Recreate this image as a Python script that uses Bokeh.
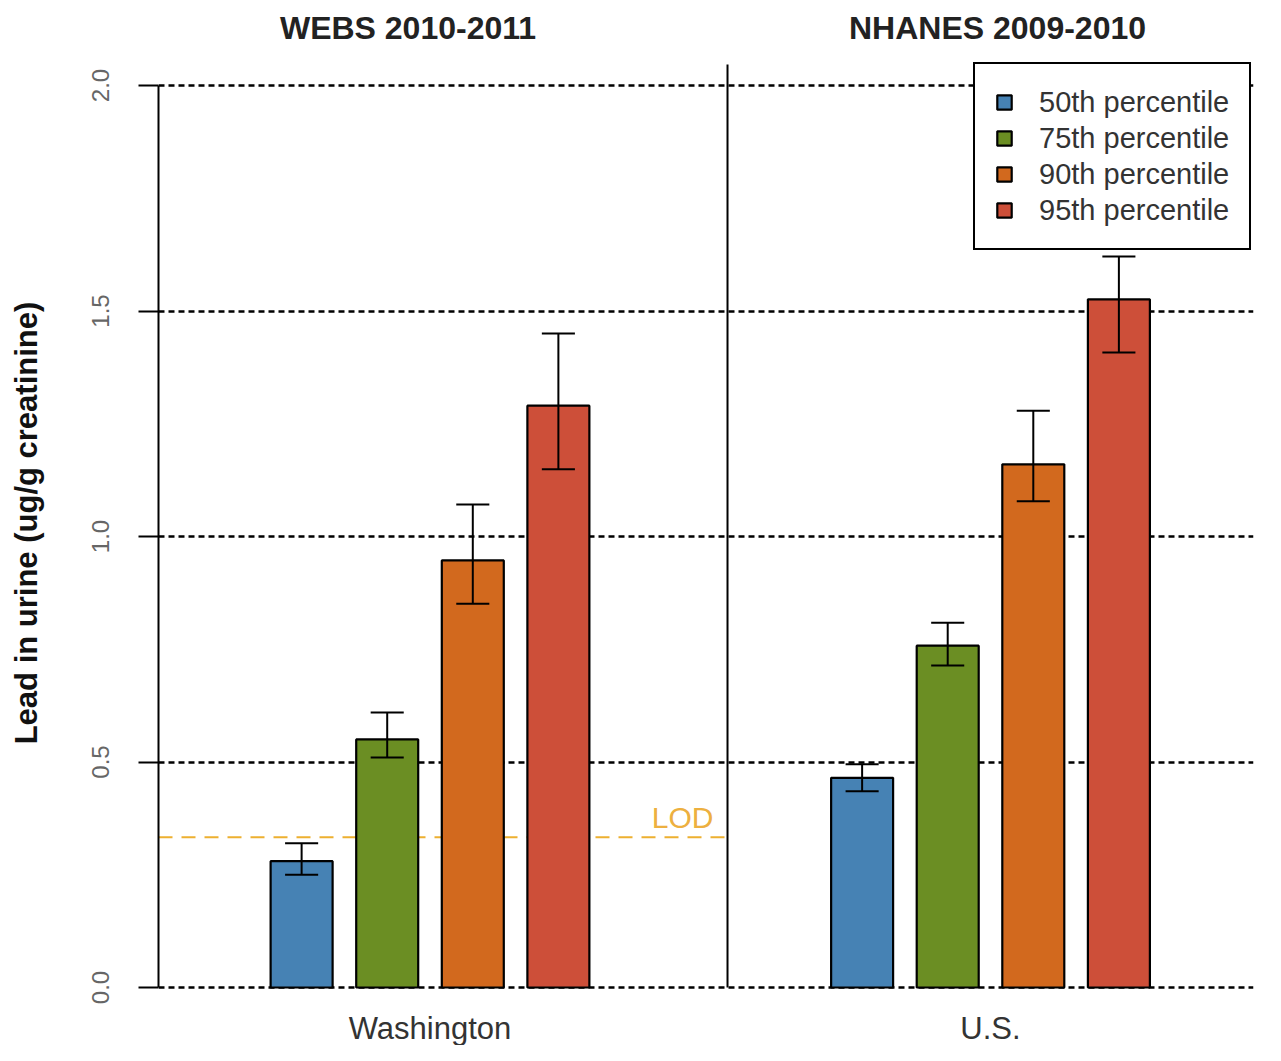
from bokeh.plotting import figure
from bokeh.models import Range1d, LinearAxis, FixedTicker, Legend, LegendItem
from bokeh.core.properties import value
from bokeh.embed import file_html
from bokeh.resources import INLINE

# ---------------- data ----------------
groups = ["Washington", "U.S."]
titles = ["WEBS 2010-2011", "NHANES 2009-2010"]
series = ["50th percentile", "75th percentile", "90th percentile", "95th percentile"]
p50 = [0.28, 0.465]
p50_lo = [0.25, 0.435]
p50_hi = [0.32, 0.495]
p75 = [0.55, 0.758]
p75_lo = [0.51, 0.714]
p75_hi = [0.61, 0.809]
p90 = [0.947, 1.16]
p90_lo = [0.851, 1.078]
p90_hi = [1.071, 1.279]
p95 = [1.29, 1.526]
p95_lo = [1.149, 1.408]
p95_hi = [1.45, 1.621]
lod = 0.333
y_ticks = [0.0, 0.5, 1.0, 1.5, 2.0]

# ---------------- style / layout ----------------
colors = ["#4682B4", "#6B8E23", "#D2691E", "#CD4F39"]
FONT = "Liberation Sans"
pitch = 0.1527
bar_w = 0.1106
cap_w = 0.059
divider_x = 1.5308
divider_top = 2.0465

p = figure(width=1265, height=1045, output_backend="svg", toolbar_location=None,
           x_axis_location=None, y_axis_location=None, title=None,
           min_border_left=158, min_border_right=12, min_border_top=0, min_border_bottom=0,
           x_range=Range1d(0.51561, 2.46922), y_range=Range1d(-0.1286, 2.1885))
p.outline_line_color = None
p.background_fill_color = "white"
p.border_fill_color = "white"

yaxis = LinearAxis(bounds=(0, 2), ticker=FixedTicker(ticks=y_ticks))
yaxis.axis_label = "Lead in urine (ug/g creatinine)"
yaxis.axis_label_text_font = FONT
yaxis.axis_label_text_font_style = "bold"
yaxis.axis_label_text_font_size = "31px"
yaxis.axis_label_text_color = "#111111"
yaxis.axis_label_standoff = 46
yaxis.major_label_orientation = "vertical"
yaxis.major_label_text_font = FONT
yaxis.major_label_text_font_size = "24px"
yaxis.major_label_text_color = "#666666"
yaxis.major_label_standoff = 29
yaxis.major_label_overrides = {0.0: "0.0", 0.5: "0.5", 1.0: "1.0", 1.5: "1.5", 2.0: "2.0"}
yaxis.major_tick_out = 20
yaxis.major_tick_in = 0
yaxis.major_tick_line_width = 2
yaxis.major_tick_line_color = "black"
yaxis.minor_tick_line_color = None
yaxis.axis_line_width = 2
yaxis.axis_line_color = "black"
p.add_layout(yaxis, "left")

p.ygrid.ticker = FixedTicker(ticks=y_ticks)
p.ygrid.grid_line_color = "black"
p.ygrid.grid_line_dash = "6 4"
p.ygrid.grid_line_width = 2.5
p.xgrid.grid_line_color = None

# divider between panels
p.segment(x0=[divider_x], y0=[0], x1=[divider_x], y1=[divider_top],
          line_color="black", line_width=2)

# LOD line
p.segment(x0=[p.x_range.start], y0=[lod], x1=[divider_x], y1=[lod],
          line_color="#EDB030", line_width=2, line_dash="14 9")
p.text(x=[divider_x], y=[lod], text=["LOD"], text_font=value(FONT),
       text_font_size="30px", text_color="#EDB040", text_align="right",
       text_baseline="bottom", x_offset=-14, y_offset=-3)

centers = [i + 1 for i in range(len(groups))]
vals = [p50, p75, p90, p95]
los = [p50_lo, p75_lo, p90_lo, p95_lo]
his = [p50_hi, p75_hi, p90_hi, p95_hi]

items = []
for k in range(4):
    xs = [c + (k - 1.5) * pitch for c in centers]
    r = p.vbar(x=xs, top=vals[k], bottom=0, width=bar_w, fill_color=colors[k],
               line_color="black", line_width=2.2)
    items.append(LegendItem(label=series[k], renderers=[r]))
    p.segment(x0=xs, y0=los[k], x1=xs, y1=his[k], line_color="black", line_width=2)
    p.segment(x0=[x - cap_w / 2 for x in xs], y0=his[k], x1=[x + cap_w / 2 for x in xs], y1=his[k],
              line_color="black", line_width=2)
    p.segment(x0=[x - cap_w / 2 for x in xs], y0=los[k], x1=[x + cap_w / 2 for x in xs], y1=los[k],
              line_color="black", line_width=2)

# group labels below
p.text(x=centers, y=[0] * len(centers), text=groups, text_font=value(FONT),
       text_font_size="31px", text_color="#333333", text_align="center",
       text_baseline="middle", y_offset=41)

# panel titles
p.text(x=[centers[0]], y=[p.y_range.end], text=[titles[0]], text_font=value(FONT),
       text_font_size="32px", text_font_style="bold", text_color="#222222",
       text_align="center", text_baseline="middle", x_offset=-22, y_offset=27)
p.text(x=[centers[1]], y=[p.y_range.end], text=[titles[1]], text_font=value(FONT),
       text_font_size="32px", text_font_style="bold", text_color="#222222",
       text_align="center", text_baseline="middle", x_offset=7, y_offset=27)

legend = Legend(items=items, location=(815, 795))
legend.label_text_font = FONT
legend.label_text_font_size = "29px"
legend.label_text_color = "#333333"
legend.glyph_width = 18
legend.glyph_height = 18
legend.label_height = 36
legend.spacing = 0
legend.padding = 20
legend.label_standoff = 26
legend.margin = 0
legend.border_line_color = "black"
legend.border_line_alpha = 1
legend.border_line_width = 2
legend.background_fill_color = "white"
legend.background_fill_alpha = 1
p.add_layout(legend, "center")

open("out.html", "w").write(file_html(p, INLINE))
